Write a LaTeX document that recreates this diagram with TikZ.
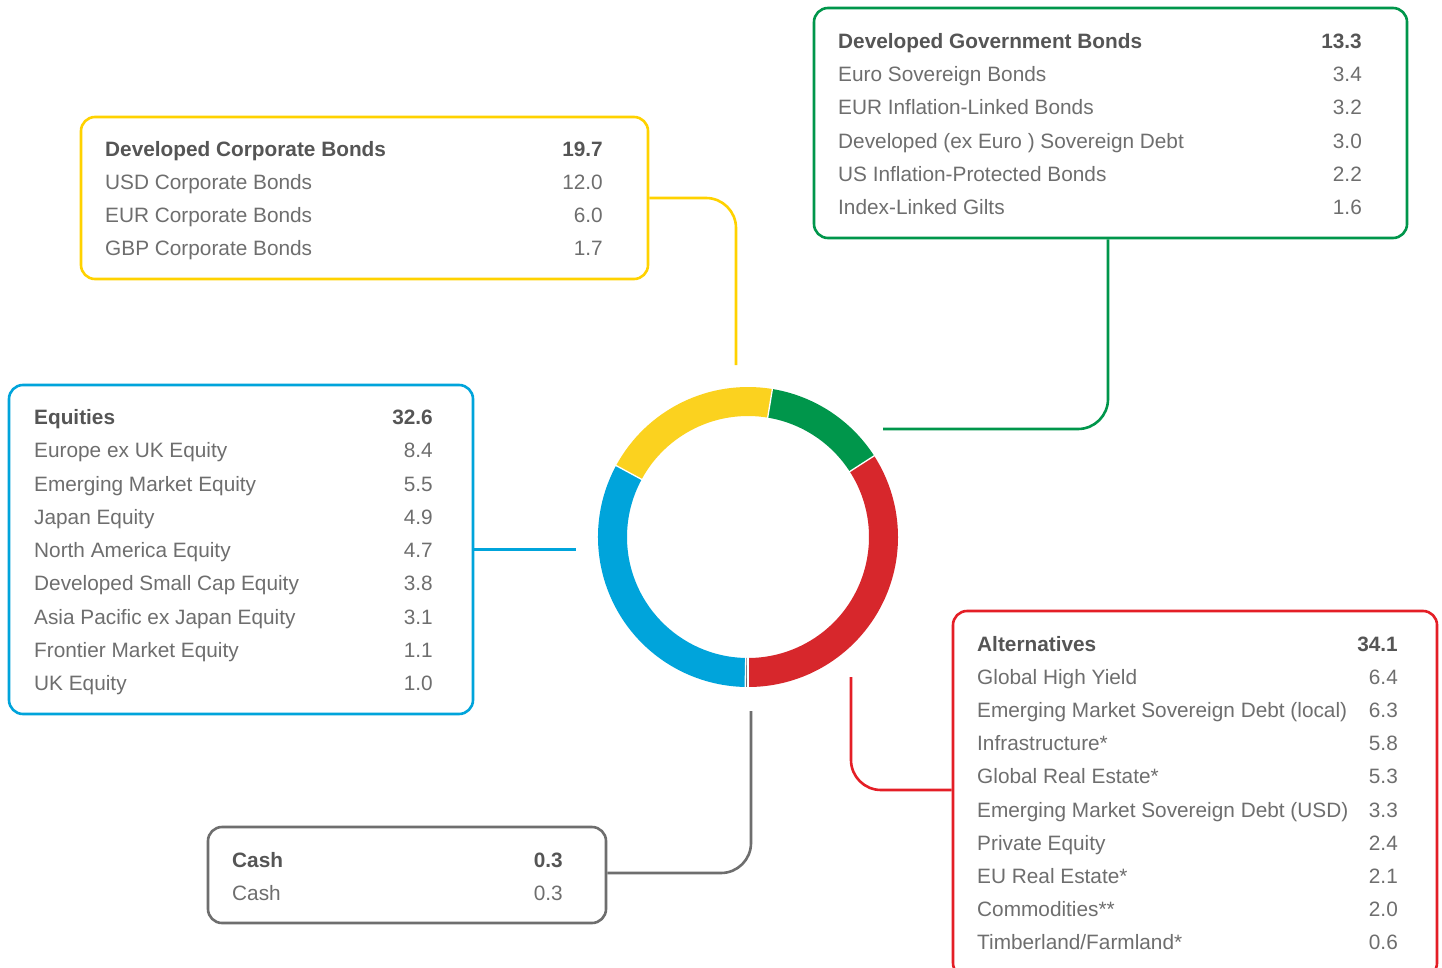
\documentclass[tikz,border=0pt]{standalone}
\usepackage{fontspec}
\setmainfont{Liberation Sans}
\definecolor{cyel}{HTML}{FBD21F}
\definecolor{cyelb}{HTML}{FFD200}
\definecolor{cgrn}{HTML}{00964B}
\definecolor{cred}{HTML}{D7272C}
\definecolor{credb}{HTML}{E41E26}
\definecolor{cblu}{HTML}{00A4DB}
\definecolor{cgry}{HTML}{6E6E6E}
\definecolor{ctxt}{HTML}{6E6E6E}
\definecolor{chd}{HTML}{555555}
\newcommand\donutseg[3]{\fill[#3] (#1:150) arc[start angle=#1, end angle=#2, radius=150] -- (#2:121) arc[start angle=#2, end angle=#1, radius=121] -- cycle;}
\begin{document}
\begin{tikzpicture}[x=1pt,y=-1pt,
  box/.style={draw, line width=2.6pt, rounded corners=14pt, inner sep=0pt},
  conn/.style={line width=2.6pt, rounded corners=30pt},
  lab/.style={anchor=base west, inner sep=0pt, text=ctxt, font=\fontsize{20.8}{24}\selectfont},
  val/.style={anchor=base east, inner sep=0pt, text=ctxt, font=\fontsize{20.8}{24}\selectfont},
  hlab/.style={lab, text=chd, font=\fontsize{20.8}{24}\selectfont\bfseries},
  hval/.style={val, text=chd, font=\fontsize{20.8}{24}\selectfont\bfseries}]
\useasboundingbox (0,0) rectangle (1442,968);
\clip (0,0) rectangle (1442,968);
\fill[white] (0,0) rectangle (1442,968);

% donut
\begin{scope}[shift={(748,537)}, yscale=-1]
\donutseg{-90}{32.76}{cred}
\donutseg{32.76}{80.64}{cgrn}
\donutseg{80.64}{151.56}{cyel}
\donutseg{151.56}{268.92}{cblu}
\donutseg{268.92}{270}{cgry}
\foreach \a in {-90,32.76,80.64,151.56,268.92}
  \draw[white, line width=1.3pt] (\a:118) -- (\a:153);
\end{scope}

% boxes
\node[box, draw=cyelb, minimum width=567pt, minimum height=162pt] (ybox) at (364.5,198) {};
\node[box, draw=cgrn, minimum width=593pt, minimum height=230pt] (gbox) at (1110.5,123) {};
\node[box, draw=cblu, minimum width=464pt, minimum height=329pt] (bbox) at (241,549.5) {};
\node[box, draw=cgry, minimum width=398pt, minimum height=96pt] (cbox) at (407,875) {};
\node[box, draw=credb, minimum width=484pt, minimum height=366pt] (rbox) at (1195,794) {};

% connector ends
\coordinate (yend) at (736,365);
\coordinate (gend) at (883,429);
\coordinate (bend) at (576,549.5);
\coordinate (cend) at (751,711);
\coordinate (rend) at (851,677);

\draw[conn, cyelb] (ybox.east) -| (yend);
\draw[conn, cgrn] ([xshift=-2.5pt]gbox.south) |- (gend);
\draw[conn, cblu] (bbox.east) -- (bend);
\draw[conn, cgry] ([yshift=2pt]cbox.east) -| (cend);
\draw[conn, credb] ([yshift=4pt]rbox.west) -| (rend);

% yellow texts
\node[hlab] (yl0) at (105,156.5) {Developed Corporate Bonds};
\node[hval] (yv0) at (603,156.5) {19.7};
\foreach \t/\v [count=\i] in {USD Corporate Bonds/12.0, EUR Corporate Bonds/6.0, GBP Corporate Bonds/1.7}{
  \node[lab] (yl\i) at (105,{156.5+33*\i}) {\t};
  \node[val] (yv\i) at (603,{156.5+33*\i}) {\v};
}

% green texts
\node[hlab] (gl0) at (838,48.5) {Developed Government Bonds};
\node[hval] (gv0) at (1362,48.5) {13.3};
\foreach \t/\v [count=\i] in {Euro Sovereign Bonds/3.4, EUR Inflation-Linked Bonds/3.2, Developed (ex Euro ) Sovereign Debt/3.0, US Inflation-Protected Bonds/2.2, Index-Linked Gilts/1.6}{
  \node[lab] (gl\i) at (838,{48.5+33.2*\i}) {\t};
  \node[val] (gv\i) at (1362,{48.5+33.2*\i}) {\v};
}

% blue texts
\node[hlab] (bl0) at (34,424.5) {Equities};
\node[hval] (bv0) at (433,424.5) {32.6};
\foreach \t/\v [count=\i] in {Europe ex UK Equity/8.4, Emerging Market Equity/5.5, Japan Equity/4.9, North America Equity/4.7, Developed Small Cap Equity/3.8, Asia Pacific ex Japan Equity/3.1, Frontier Market Equity/1.1, UK Equity/1.0}{
  \node[lab] (bl\i) at (34,{424.5+33.25*\i}) {\t};
  \node[val] (bv\i) at (433,{424.5+33.25*\i}) {\v};
}

% cash texts
\node[hlab] (cl0) at (232,867.5) {Cash};
\node[hval] (cv0) at (563,867.5) {0.3};
\node[lab] (cl1) at (232,900.5) {Cash};
\node[val] (cv1) at (563,900.5) {0.3};

% red texts
\node[hlab] (rl0) at (977,651.5) {Alternatives};
\node[hval] (rv0) at (1398,651.5) {34.1};
\foreach \t/\v [count=\i] in {Global High Yield/6.4, Emerging Market Sovereign Debt (local)/6.3, Infrastructure*/5.8, Global Real Estate*/5.3, Emerging Market Sovereign Debt (USD)/3.3, Private Equity/2.4, EU Real Estate*/2.1, Commodities**/2.0, {Timberland/Farmland*}/0.6}{
  \node[lab] (rl\i) at (977,{651.5+33.1*\i}) {\t};
  \node[val] (rv\i) at (1398,{651.5+33.1*\i}) {\v};
}
\end{tikzpicture}
\end{document}
